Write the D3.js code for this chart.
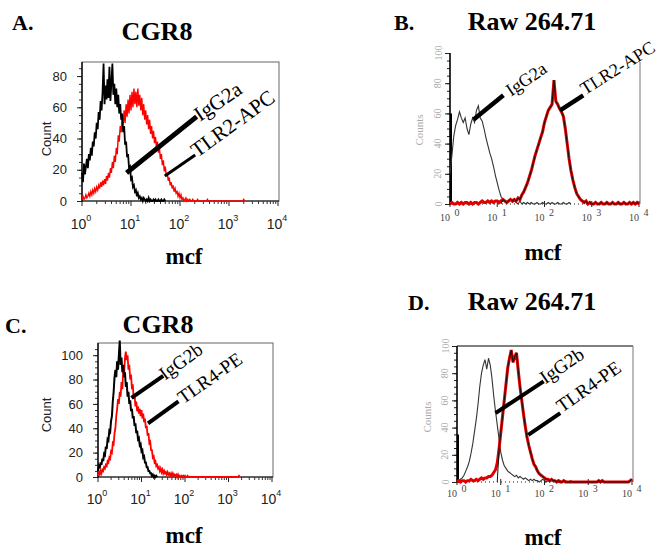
<!DOCTYPE html>
<html><head><meta charset="utf-8">
<script src="https://cdn.jsdelivr.net/npm/d3@7"></script>
<style>body{margin:0;background:#fff}svg{display:block}</style>
</head><body>
<svg id="c" width="660" height="550"></svg>
<script>
// log10 channel step between successive histogram values (values start at 10^0)
const STEP_CGR8 = 0.02;   // panels A, C
const STEP_RAW = 0.04;    // panels B, D
const decades = [0, 1, 2, 3, 4];

// ---------- Panel A: CGR8, IgG2a vs TLR2-APC ----------
const aIgG2a = [18,12,24,17,22,27,21,30,26,34,29,38,35,44,40,50,46,57,52,64,58,70,88,62,74,65,78,66,86,64,76,88,68,75,62,72,60,68,56,62,52,56,44,48,36,38,28,30,21,22,14,15,9,10,6,7,3,5,2,3,1,2,0,2,1,0,1,0,2,0,1,0,0,1,0,1,0,0,1,0,0,1,0,0,1,0];
const aTLR2 = [1,3,1,2,4,2,3,5,3,6,4,7,5,8,6,9,7,10,8,12,9,13,10,14,11,16,13,18,15,21,18,25,21,29,25,34,30,42,38,48,44,55,49,58,50,62,54,65,56,68,58,70,60,72,62,70,60,72,61,68,58,66,55,62,52,58,49,55,46,52,43,48,40,45,37,41,34,38,31,34,27,30,23,26,19,22,16,18,13,15,10,12,8,10,6,8,5,6,3,5,2,4,1,2,0,1,2,0,1,0,1,0,0,1,0,0,0,0,1,0,0,0,0,0,0,0,0,0,1,0,0,0,0,0,0,0,0,0,0,0,0,0,0,0,0,0,0,0,0,0,0,0,0,0,0,0,0,0,0,0,0,0,0,0,0,1,0];
const aYTicks = [0, 20, 40, 60, 80];

// ---------- Panel B: Raw 264.71, IgG2a vs TLR2-APC ----------
const bIgG2aFirst = [60];
const bIgG2a = [20,32,45,52,56,61,57,54,57,50,46,53,57,54,62,65,57,55,50,44,39,34,30,25,19,14,9,5,3,2,1,2,3,1,2,1,0,2,0,1,0,1,0,1,0,0,1,0,0,1,0,0,1,0,1,0,0,1,0,0,1,0,0,1,0];
const bTLR2 = [0,1,0,0,1,0,1,0,1,1,0,1,0,1,1,0,1,2,1,1,2,1,2,1,2,2,1,2,3,2,1,2,3,2,3,2,4,3,6,8,11,14,18,22,27,32,36,40,44,48,54,58,62,64,66,82,68,66,63,61,58,50,40,30,22,16,11,7,5,3,2,1,2,0,1,0,0,1,0,0,1,0,0,1,0,0,1,0,0,1,0,0,1,0,0,1,0,1,0,1,0];
const bYTicks = [0, 20, 40, 60, 80, 100];

// ---------- Panel C: CGR8, IgG2b vs TLR4-PE ----------
const cIgG2b = [5,9,7,12,10,15,13,19,18,25,23,31,30,38,37,46,50,62,70,82,88,82,95,88,100,112,92,98,86,92,82,86,74,78,66,70,60,63,54,56,48,50,42,44,36,38,31,32,26,27,21,22,16,17,12,12,8,8,5,5,3,3,1,2,0,1,0,1,0];
const cTLR4 = [1,4,2,5,3,6,5,8,7,10,9,13,12,16,15,21,20,28,27,36,40,50,56,64,60,70,66,78,72,88,84,98,103,96,100,88,92,80,84,72,76,64,68,58,62,54,58,52,56,50,55,48,52,45,48,40,42,34,36,28,29,22,22,16,17,12,13,9,10,7,8,5,7,4,6,3,5,3,4,2,4,2,3,1,3,1,3,1,2,1,2,0,2,0,1,0,1,0,1,0,1,0,0,1,0,0,0,0,0,0,0,0,0,0,0,0,0,0,0,0,0,0,0,0,0,0,0,0,0,0,0,0,0,0,0,0,0,0,0,0,0,0,0,0,0,0,0,0,0,0,0,0,0,0,0,0,0,0,0,0,0,0,1,0];
const cYTicks = [0, 20, 40, 60, 80, 100];

// ---------- Panel D: Raw 264.71, IgG2b vs TLR4-PE ----------
const dIgG2bFirst = [35];
const dIgG2b = [0,1,2,3,5,8,11,15,21,28,37,46,57,70,80,86,90,83,91,86,76,63,52,42,32,22,16,12,10,8,7,6,5,4,5,3,4,3,2,3,2,1,2,1,2,1,1,0,1,2,1,0,1,0,1,1,0,1,0,1,0,0,1,0,0,1,0];
const dTLR4 = [0,1,0,1,1,0,1,1,2,1,1,2,1,2,3,2,3,3,4,4,5,7,9,14,24,36,48,60,72,84,91,97,88,92,95,82,70,60,50,41,33,27,22,17,13,11,8,6,5,4,3,2,2,1,2,1,1,0,1,0,0,1,0,0,0,0,0,0,0,0,0,0,0,0,0,0,0,0,0,0,0,1,0,1,0,0,0,0,0,0,0,0,0,0,0,0,0,0,0,1,2];
const dYTicks = [0, 20, 40, 60, 80, 100];

// annotations: [label, [log10, count] start, [log10, count] end, text anchor [log10, count], angle, line width]
const aNotes = [["IgG2a", [0.91,18], [2.34,54], [2.41,50.6], -34, 5], ["TLR2-APC", [1.69,16], [2.31,29.4], [2.35,27.5], -36, 3]];
const bNotes = [["IgG2a", [0.50,56], [1.13,72], [1.29,71], -34, 4.5], ["TLR2-APC", [2.33,62], [2.82,72], [2.86,72], -32, 4.5]];
const cNotes = [["IgG2b", [0.77,65], [1.50,83], [1.54,79], -36, 4], ["TLR4-PE", [1.15,44], [1.85,62], [1.96,59.5], -35, 4]];
const dNotes = [["IgG2b", [0.88,50.7], [1.98,74], [2.02,71.6], -34, 4], ["TLR4-PE", [1.63,34.6], [2.36,50.7], [2.40,50.7], -35, 4]];

const svg = d3.select('#c');
const serif = "'Liberation Serif','Times New Roman',serif";
const sans = "'Liberation Sans',Arial,sans-serif";

function text(g, x, y, s, opts) {
  const t = g.append('text').attr('x', x).attr('y', y).text(s)
    .attr('font-family', opts.family || serif).attr('font-size', opts.size)
    .attr('font-weight', opts.weight || 'normal').attr('fill', opts.fill || '#000')
    .attr('text-anchor', opts.anchor || 'start');
  if (opts.rotate) t.attr('transform', `rotate(${opts.rotate},${x},${y})`);
  return t;
}

function lineGen(x, y, start, step) {
  return d3.line().x((d, i) => x(Math.pow(10, (i + start) * step))).y(d => y(d));
}

function notes(g, x, y, list, size) {
  list.forEach(([lab, s, e, t, ang, w]) => {
    g.append('line').attr('x1', x(Math.pow(10, s[0]))).attr('y1', y(s[1]))
      .attr('x2', x(Math.pow(10, e[0]))).attr('y2', y(e[1]))
      .attr('stroke', '#000').attr('stroke-width', w);
    text(g, x(Math.pow(10, t[0])), y(t[1]), lab, {size: size, rotate: ang});
  });
}

// ---- Style 1 (A, C): boxed, sans labels ----
function panelBoxed(p) {
  const g = svg.append('g');
  const x = d3.scaleLog().domain([1, 1e4]).range([p.left, p.right]);
  const y = d3.scaleLinear().domain([0, p.yMax]).range([p.bottom, p.top]);
  g.append('rect').attr('x', p.left).attr('y', p.top).attr('width', p.right - p.left + 1)
    .attr('height', p.bottom - p.top).attr('fill', 'none').attr('stroke', '#666').attr('stroke-width', 1);
  const minor = g.append('g').attr('transform', `translate(${p.left},0)`)
    .call(d3.axisLeft(y).tickValues(d3.range(0, p.yMax, 5)).tickSize(3).tickFormat(''));
  minor.select('.domain').remove();
  minor.selectAll('line').attr('stroke', '#333');
  const yax = g.append('g').attr('transform', `translate(${p.left},0)`)
    .call(d3.axisLeft(y).tickValues(p.yTicks).tickSize(5).tickPadding(10));
  yax.select('.domain').remove();
  yax.selectAll('line').attr('stroke', '#222');
  yax.selectAll('text').attr('font-family', sans).attr('font-size', 13).attr('fill', '#222');
  g.append('line').attr('x1', p.left).attr('x2', p.left).attr('y1', p.top).attr('y2', p.bottom + 1)
    .attr('stroke', '#111').attr('stroke-width', 1.5);
  g.append('line').attr('x1', p.left).attr('x2', p.right + 1).attr('y1', p.bottom).attr('y2', p.bottom)
    .attr('stroke', '#111').attr('stroke-width', 1);
  decades.forEach(k => {
    const px = x(Math.pow(10, k));
    g.append('line').attr('x1', px).attr('x2', px).attr('y1', p.bottom).attr('y2', p.bottom + 5).attr('stroke', '#222');
    if (k < 4) for (let m = 2; m < 10; m++) {
      const mx = x(m * Math.pow(10, k));
      g.append('line').attr('x1', mx).attr('x2', mx).attr('y1', p.bottom).attr('y2', p.bottom + 3).attr('stroke', '#333');
    }
    const t = text(g, px - 1, p.labelY, '10', {family: sans, size: 14, anchor: 'middle', fill: '#222'});
    t.append('tspan').attr('dy', -8).attr('font-size', 9).text(k);
  });
  text(g, p.countX, p.countY, 'Count', {family: sans, size: 13, anchor: 'middle', rotate: -90, fill: '#222'});
  p.series.forEach(s => {
    g.append('path').datum(s.data).attr('d', lineGen(x, y, 0, p.step)).attr('fill', 'none')
      .attr('stroke', s.color).attr('stroke-width', s.width).attr('stroke-linejoin', 'miter');
  });
  notes(g, x, y, p.notes, p.noteSize);
}

// ---- Style 2 (B, D): flow-software style ----
function panelFlow(p) {
  const g = svg.append('g');
  const x = d3.scaleLog().domain([1, 1e4]).range([p.left, p.right]);
  const y = d3.scaleLinear().domain([0, p.yMax]).range([p.bottom, p.top]);
  if (p.topBorder) g.append('line').attr('x1', p.left).attr('x2', p.right + 1).attr('y1', p.top).attr('y2', p.top).attr('stroke', '#000');
  g.append('line').attr('x1', p.right + 1).attr('x2', p.right + 1).attr('y1', p.rightTop).attr('y2', p.bottom)
    .attr('stroke', '#777').attr('stroke-width', 1);
  g.append('line').attr('x1', p.left).attr('x2', p.right).attr('y1', p.bottom).attr('y2', p.bottom)
    .attr('stroke', '#222').attr('stroke-dasharray', '1,3');
  const minor = g.append('g').attr('transform', `translate(${p.left},0)`)
    .call(d3.axisLeft(y).tickValues(d3.range(0, p.yMax + 1, 5)).tickSize(3).tickFormat(''));
  minor.select('.domain').remove();
  minor.selectAll('line').attr('stroke', '#222');
  const yax = g.append('g').attr('transform', `translate(${p.left},0)`)
    .call(d3.axisLeft(y).tickValues(p.yTicks).tickSize(5).tickFormat(''));
  yax.select('.domain').remove();
  yax.selectAll('line').attr('stroke', '#222');
  p.yTicks.forEach(v => {
    text(g, p.left - 12, y(v), String(v), {size: 10, anchor: 'middle', rotate: -90, fill: '#aaa'})
      .attr('dominant-baseline', 'central');
  });
  text(g, p.countsX, p.countsY, 'Counts', {size: 11, anchor: 'middle', rotate: -90, fill: '#aaa'});
  g.append('line').attr('x1', p.left).attr('x2', p.left).attr('y1', p.top).attr('y2', p.bottom + 1)
    .attr('stroke', '#000').attr('stroke-width', 1.6);
  decades.forEach(k => {
    const px = x(Math.pow(10, k));
    g.append('line').attr('x1', px).attr('x2', px).attr('y1', p.bottom - 3).attr('y2', p.bottom + 3).attr('stroke', '#222');
    text(g, px - 5, p.labelY, '10', {size: 10, anchor: 'middle', fill: '#444'});
    text(g, px + 7, p.labelY - 5, String(k), {size: 10, anchor: 'middle', fill: '#444'});
  });
  g.append('line').attr('x1', x(1) + 1).attr('x2', x(1) + 1).attr('y1', y(0)).attr('y2', y(p.first[0]))
    .attr('stroke', '#000').attr('stroke-width', 2);
  g.append('path').datum(p.ctrl).attr('d', lineGen(x, y, 0, p.step)).attr('fill', 'none').attr('stroke', '#333').attr('stroke-width', 1.1);
  g.append('path').datum(p.stain).attr('d', lineGen(x, y, 0, p.step)).attr('fill', 'none').attr('stroke', '#e00000').attr('stroke-width', 3);
  const ov = [0].concat(p.stain.slice(p.overlayFrom));
  g.append('path').datum(ov).attr('d', lineGen(x, y, p.overlayFrom - 1, p.step)).attr('fill', 'none').attr('stroke', '#111').attr('stroke-width', 1);
  notes(g, x, y, p.notes, p.noteSize);
}

panelBoxed({left: 82, right: 278, top: 62, bottom: 201, yMax: 89, yTicks: aYTicks, labelY: 229, step: STEP_CGR8,
  countX: 51, countY: 139, notes: aNotes, noteSize: 21,
  series: [{data: aTLR2, color: '#ff0000', width: 1.4}, {data: aIgG2a, color: '#000', width: 1.8}]});
panelBoxed({left: 98, right: 272, top: 343, bottom: 477, yMax: 110, yTicks: cYTicks, labelY: 504, step: STEP_CGR8,
  countX: 51, countY: 415, notes: cNotes, noteSize: 19,
  series: [{data: cTLR4, color: '#ff0000', width: 1.8}, {data: cIgG2b, color: '#000', width: 2}]});
panelFlow({left: 450, right: 639, top: 53, bottom: 204, yMax: 100, yTicks: bYTicks, labelY: 221, step: STEP_RAW,
  rightTop: 62, topBorder: false, countsX: 423, countsY: 130, first: bIgG2aFirst,
  ctrl: bIgG2a, stain: bTLR2, overlayFrom: 28, notes: bNotes, noteSize: 18});
panelFlow({left: 457, right: 632, top: 346, bottom: 482, yMax: 100, yTicks: dYTicks, labelY: 497, step: STEP_RAW,
  rightTop: 346, topBorder: true, countsX: 431, countsY: 417, first: dIgG2bFirst,
  ctrl: dIgG2b, stain: dTLR4, overlayFrom: 24, notes: dNotes, noteSize: 19});

const T = svg.append('g');
text(T, 12, 30, 'A.', {size: 22, weight: 'bold'});
text(T, 157, 40, 'CGR8', {size: 26, weight: 'bold', anchor: 'middle'});
text(T, 394, 30, 'B.', {size: 22, weight: 'bold'});
text(T, 532, 30, 'Raw 264.71', {size: 26, weight: 'bold', anchor: 'middle'});
text(T, 5, 333, 'C.', {size: 22, weight: 'bold'});
text(T, 158, 333, 'CGR8', {size: 26, weight: 'bold', anchor: 'middle'});
text(T, 408, 310, 'D.', {size: 22, weight: 'bold'});
text(T, 532, 310, 'Raw 264.71', {size: 26, weight: 'bold', anchor: 'middle'});
text(T, 184, 264, 'mcf', {size: 23, weight: 'bold', anchor: 'middle'});
text(T, 543, 260, 'mcf', {size: 23, weight: 'bold', anchor: 'middle'});
text(T, 184, 543, 'mcf', {size: 23, weight: 'bold', anchor: 'middle'});
text(T, 543, 545, 'mcf', {size: 23, weight: 'bold', anchor: 'middle'});
</script>
</body></html>
